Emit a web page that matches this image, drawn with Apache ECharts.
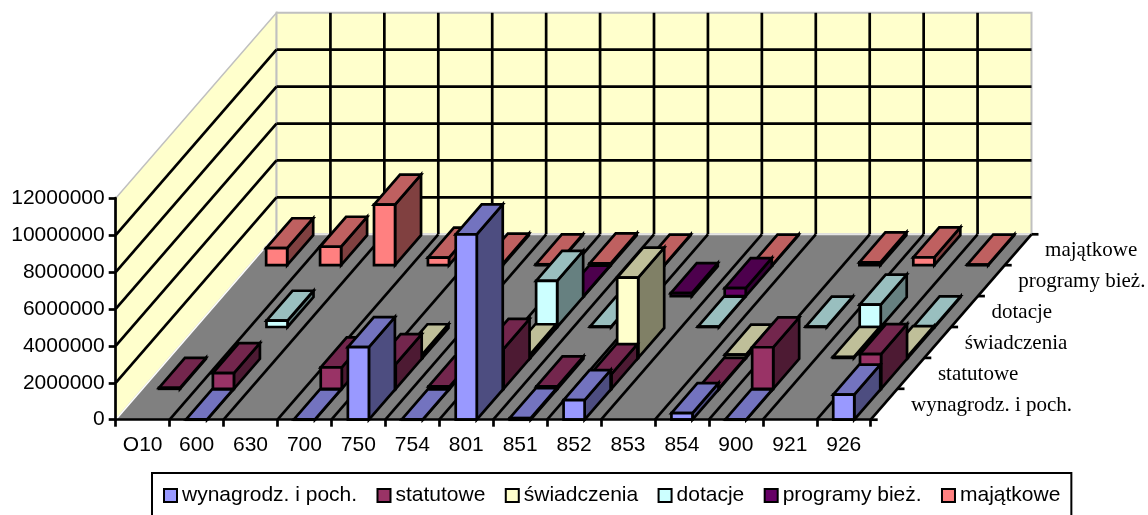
<!DOCTYPE html>
<html>
<head>
<meta charset="utf-8">
<style>html,body{margin:0;padding:0;background:#fff}#c{width:1148px;height:515px}</style>
<script src="https://cdn.jsdelivr.net/npm/echarts@6/dist/echarts.min.js"></script>
</head>
<body>
<div id="c"></div>
<script>
const categories = ['O10','600','630','700','750','754','801','851','852','853','854','900','921','926'];
const depthLabels = ['wynagrodz. i poch.','statutowe','świadczenia','dotacje','programy bież.','majątkowe'];
const yTicks = [0,2000000,4000000,6000000,8000000,10000000,12000000];

const wynagrodz  = [null,20000,null,20000,3930000,20000,10040000,80000,1060000,null,360000,20000,null,1360000];
const statutowe  = [50000,850000,null,1160000,1340000,130000,2160000,130000,800000,null,50000,2250000,null,1880000];
const swiadczenia= [null,null,null,null,200000,null,200000,null,4350000,null,180000,null,50000,100000];
const dotacje    = [null,340000,null,null,null,null,2500000,20000,null,20000,null,20000,1210000,30000];
const programy   = [null,null,null,null,null,null,20000,null,160000,430000,null,null,null,null];
const majatkowe  = [920000,1000000,3280000,410000,90000,50000,100000,30000,null,30000,null,150000,420000,30000];

const seriesValues = [wynagrodz,statutowe,swiadczenia,dotacje,programy,majatkowe];
const palette = [
  {f:'#9999FF',t:'#7373BF',s:'#4D4D80'},
  {f:'#993366',t:'#73264D',s:'#4D1A33'},
  {f:'#FFFFCC',t:'#BFBF99',s:'#808066'},
  {f:'#CCFFFF',t:'#99BFBF',s:'#668080'},
  {f:'#660066',t:'#4D004D',s:'#330033'},
  {f:'#FF8080',t:'#BF6060',s:'#804040'}
];
const DX = 26.8, DY = -30.9, N = 6, LW = 2.7, BAR = 0.39, DEPTHFILL = 0.97;

function poly(pts, fill, stroke, lw){
  return {type:'polygon',shape:{points:pts},style:{fill:fill,stroke:stroke||'#000',lineWidth:lw===undefined?LW:lw,lineJoin:'miter'}};
}
function line(a,b,stroke,lw){
  return {type:'line',shape:{x1:a[0],y1:a[1],x2:b[0],y2:b[1]},style:{stroke:stroke||'#000',lineWidth:lw||LW}};
}
function renderScene(params, api){
  const band = api.size([1,0])[0];
  const o = api.coord([0,0]);
  const L = o[0]-band/2, B = o[1];
  const R = L+band*categories.length;
  const T = api.coord([0,yTicks[yTicks.length-1]])[1];
  const bx = DX*N, by = DY*N;
  const ch = [];
  ch.push(poly([[L,B],[L+bx,B+by],[L+bx,T+by],[L,T]],'#FFFFCC','#C0C0C0',1.5));
  ch.push(poly([[L+bx,B+by],[R+bx,B+by],[R+bx,T+by],[L+bx,T+by]],'#FFFFCC','#C0C0C0',2));
  ch.push(poly([[L,B],[R,B],[R+bx,B+by],[L+bx,B+by]],'#808080','#fff',0));
  ch.push(line([L,B],[L+bx,B+by],'#fff',1.5));
  ch.push(line([L+bx,B+by],[R+bx,B+by],'#E4E4E4',2));
  yTicks.forEach(function(v){
    if(v===0) return;
    const y = api.coord([0,v])[1];
    if(v<yTicks[yTicks.length-1]){
      ch.push(line([L,y],[L+bx,y+by]));
      ch.push(line([L+bx,y+by],[R+bx,y+by]));
    }
  });
  for(let i=1;i<=categories.length;i++){
    const x = L+band*i;
    ch.push(line([x,B],[x+bx,B+by]));
    if(i<categories.length) ch.push(line([x+bx,B+by],[x+bx,T+by]));
  }
  for(let d=0;d<=N;d++){
    const p=[R+DX*d,B+DY*d];
    ch.push(line(p,[p[0]+7,p[1]]));
  }
  depthLabels.forEach(function(t,d){
    ch.push({type:'text',x:R+DX*(d+0.5)+27,y:B+DY*(d+0.5)+1,style:{text:t,fill:'#000',font:'21px "Liberation Serif"',textAlign:'left',textVerticalAlign:'middle'}});
  });
  return {type:'group',children:ch};
}
function makeBar(d){
  return function(params, api){
    const v = api.value(1);
    if(v===null||v===undefined||isNaN(v)) return null;
    const band = api.size([1,0])[0];
    const w = band*BAR;
    const b = api.coord([api.value(0),0]);
    const t = api.coord([api.value(0),v]);
    const ox = DX*d, oy = DY*d;
    const x0 = b[0]-w/2+ox, x1 = x0+w, yb = b[1]+oy, yt = t[1]+oy;
    const ex = DX*DEPTHFILL, ey = DY*DEPTHFILL;
    const p = palette[d];
    return {type:'group',children:[
      poly([[x1,yb],[x1+ex,yb+ey],[x1+ex,yt+ey],[x1,yt]],p.s),
      poly([[x0,yt],[x1,yt],[x1+ex,yt+ey],[x0+ex,yt+ey]],p.t),
      poly([[x0,yb],[x1,yb],[x1,yt],[x0,yt]],p.f)
    ]};
  };
}
const series = [{
  name:'scene',type:'custom',z:1,silent:true,data:[[0,0]],renderItem:renderScene
}];
depthLabels.forEach(function(name,d){
  series.push({
    name:name,type:'custom',z:10+N-d,silent:true,
    itemStyle:{color:palette[d].f},
    encode:{x:0,y:1},
    data:seriesValues[d].map(function(v,i){return [i,v];}),
    renderItem:makeBar(d)
  });
});
const chart = echarts.init(document.getElementById('c'),null,{renderer:'canvas'});
chart.setOption({
  animation:false,
  backgroundColor:'#fff',
  textStyle:{fontFamily:'"Liberation Sans"'},
  grid:{left:115.7,top:198.2,width:755,height:221.5},
  legend:{
    data:depthLabels,left:152,top:473,
    orient:'horizontal',icon:'rect',itemWidth:13,itemHeight:13,itemGap:19.4,
    padding:[12,11,30,11],
    backgroundColor:'#fff',borderColor:'#000',borderWidth:2,
    selectedMode:false,
    itemStyle:{borderColor:'#000',borderWidth:2},
    textStyle:{fontFamily:'"Liberation Sans"',fontSize:21,color:'#000'}
  },
  xAxis:{
    type:'category',data:categories,boundaryGap:true,z:30,
    axisLine:{show:true,lineStyle:{color:'#000',width:2.7}},
    axisTick:{show:true,length:7,alignWithLabel:false,lineStyle:{color:'#000',width:2.7}},
    axisLabel:{color:'#000',fontFamily:'"Liberation Sans"',fontSize:21,margin:15,interval:0},
    splitLine:{show:false}
  },
  yAxis:{
    type:'value',min:0,max:12000000,interval:2000000,z:30,
    axisLine:{show:true,lineStyle:{color:'#000',width:2.7}},
    axisTick:{show:true,length:7,lineStyle:{color:'#000',width:2.7}},
    axisLabel:{color:'#000',fontFamily:'"Liberation Sans"',fontSize:21,margin:11,formatter:function(v){return String(v);}},
    splitLine:{show:false}
  },
  series:series
});
</script>
</body>
</html>
